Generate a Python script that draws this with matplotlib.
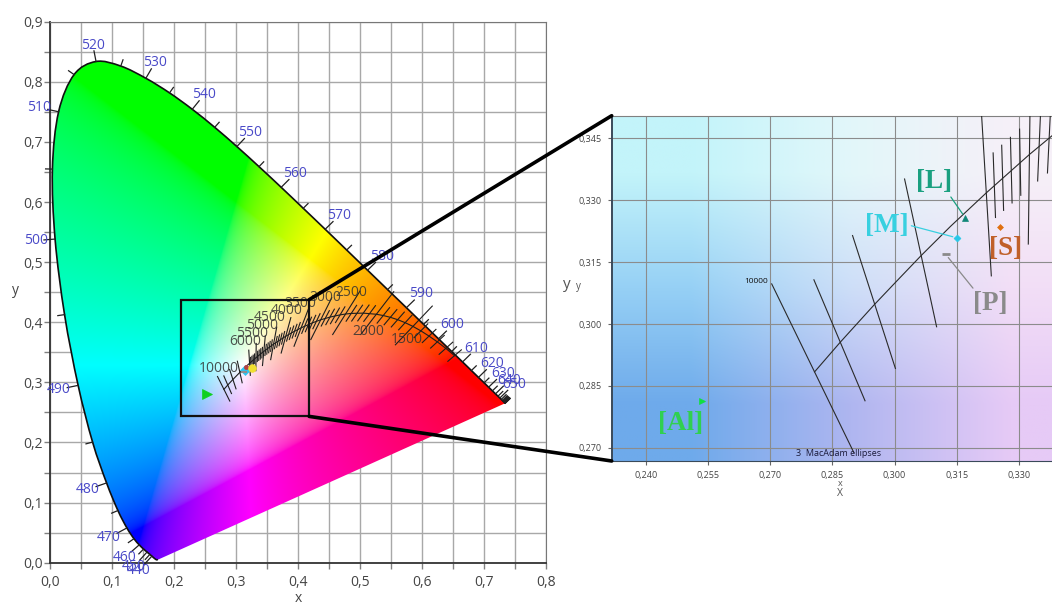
import numpy as np
import matplotlib
matplotlib.use("Agg")
import matplotlib.pyplot as plt
from matplotlib.path import Path
from matplotlib.patches import PathPatch, Rectangle, ConnectionPatch
from matplotlib.ticker import FuncFormatter, MultipleLocator, FixedLocator

plt.rcParams["font.family"] = ["Open Sans", "DejaVu Sans"]

# CIE 1931 2 deg spectral locus, 5 nm steps
WAVELENGTHS = list(range(380, 705, 5))
LOCUS_X = [0.1741, 0.1740, 0.1738, 0.1736, 0.1733, 0.1730, 0.1726, 0.1721, 0.1714, 0.1703,
           0.1689, 0.1669, 0.1644, 0.1611, 0.1566, 0.1510, 0.1440, 0.1355, 0.1241, 0.1096,
           0.0913, 0.0687, 0.0454, 0.0235, 0.0082, 0.0039, 0.0139, 0.0389, 0.0743, 0.1142,
           0.1547, 0.1929, 0.2296, 0.2658, 0.3016, 0.3373, 0.3731, 0.4087, 0.4441, 0.4788,
           0.5125, 0.5448, 0.5752, 0.6029, 0.6270, 0.6482, 0.6658, 0.6801, 0.6915, 0.7006,
           0.7079, 0.7140, 0.7190, 0.7230, 0.7260, 0.7283, 0.7300, 0.7311, 0.7320, 0.7327,
           0.7334, 0.7340, 0.7344, 0.7346, 0.7347]
LOCUS_Y = [0.0050, 0.0050, 0.0049, 0.0049, 0.0048, 0.0048, 0.0048, 0.0048, 0.0051, 0.0058,
           0.0069, 0.0086, 0.0109, 0.0138, 0.0177, 0.0227, 0.0297, 0.0399, 0.0578, 0.0868,
           0.1327, 0.2007, 0.2950, 0.4127, 0.5384, 0.6548, 0.7502, 0.8120, 0.8338, 0.8262,
           0.8059, 0.7816, 0.7543, 0.7243, 0.6923, 0.6589, 0.6245, 0.5896, 0.5547, 0.5202,
           0.4866, 0.4544, 0.4242, 0.3965, 0.3725, 0.3514, 0.3340, 0.3197, 0.3083, 0.2993,
           0.2920, 0.2859, 0.2809, 0.2770, 0.2740, 0.2717, 0.2700, 0.2689, 0.2680, 0.2673,
           0.2666, 0.2660, 0.2656, 0.2654, 0.2653]
TICKED_NM = list(range(440, 705, 5))
LABELED_NM = list(range(440, 655, 10))

# Planckian locus (blackbody chromaticities)
CCT_K = [1000, 1100, 1200, 1300, 1400, 1500, 1600, 1700, 1800, 1900, 2000, 2200, 2400,
         2500, 2600, 2800, 3000, 3200, 3500, 3800, 4000, 4500, 5000, 5500, 6000, 6500,
         7000, 7500, 8000, 9000, 10000]
CCT_X = [0.6528, 0.6388, 0.6251, 0.6117, 0.5985, 0.5857, 0.5732, 0.5611, 0.5493, 0.5378,
         0.5267, 0.5056, 0.4862, 0.4770, 0.4682, 0.4519, 0.4369, 0.4234, 0.4053, 0.3897,
         0.3805, 0.3608, 0.3451, 0.3325, 0.3221, 0.3135, 0.3064, 0.3004, 0.2952, 0.2869,
         0.2807]
CCT_Y = [0.3444, 0.3566, 0.3674, 0.3770, 0.3857, 0.3931, 0.3993, 0.4043, 0.4082, 0.4112,
         0.4133, 0.4152, 0.4147, 0.4137, 0.4123, 0.4086, 0.4041, 0.3990, 0.3907, 0.3823,
         0.3768, 0.3636, 0.3516, 0.3411, 0.3318, 0.3237, 0.3166, 0.3103, 0.3048, 0.2956,
         0.2884]
MAJOR_CCT = [1500, 2000, 2500, 3000, 3500, 4000, 4500, 5000, 5500, 6000, 7000, 8000, 9000, 10000]
MINOR_CCT = [t for t in range(1000, 6001, 100) if t not in MAJOR_CCT]
LABELED_CCT = [10000, 6000, 5500, 5000, 4500, 4000, 3500, 3000, 2500, 2000, 1500]
CCT_LABEL_OFFSET = [(-0.009, 0.034), (-0.007, 0.036), (-0.007, 0.040), (-0.003, 0.043),
                    (-0.006, 0.044), (0.001, 0.042), (-0.002, 0.040), (0.007, 0.037),
                    (0.010, 0.036), (-0.013, -0.029), (-0.010, -0.022)]

# measured samples
SAMPLE_NAMES = ["[Al]", "[M]", "[L]", "[S]", "[P]"]
SAMPLE_X = [0.2535, 0.3150, 0.3170, 0.3253, 0.3123]
SAMPLE_Y = [0.2814, 0.3209, 0.3258, 0.3236, 0.3169]

ZOOM_BOX = (0.2117, 0.2434, 0.4183, 0.4376)
INSET_XLIM = (0.2318, 0.3471)
INSET_YLIM = (0.2668, 0.3505)

XYZ_TO_SRGB = np.array([[3.2406, -1.5372, -0.4986],
                        [-0.9689, 1.8758, 0.0415],
                        [0.0557, -0.2040, 1.0570]])


def chromaticity_rgb(x, y):
    y = np.maximum(y, 1e-6)
    xyz = np.stack([x / y, np.ones_like(x), (1 - x - y) / y], axis=-1)
    rgb = np.clip(xyz @ XYZ_TO_SRGB.T, 0, None)
    rgb /= np.maximum(rgb.max(axis=-1, keepdims=True), 1e-9)
    return np.where(rgb <= 0.0031308, 12.92 * rgb, 1.055 * rgb ** (1 / 2.4) - 0.055)


def smooth_path(xs, ys, closed=False):
    # Catmull-Rom through the locus points, written as cubic Bezier segments
    pts = np.column_stack([xs, ys])
    verts, codes = [pts[0]], [Path.MOVETO]
    for i in range(len(pts) - 1):
        p0, p1 = pts[max(i - 1, 0)], pts[i]
        p2, p3 = pts[i + 1], pts[min(i + 2, len(pts) - 1)]
        verts += [p1 + (p2 - p0) / 6, p2 - (p3 - p1) / 6, p2]
        codes += [Path.CURVE4] * 3
    if closed:
        verts += [pts[0], pts[0]]
        codes += [Path.LINETO, Path.CLOSEPOLY]
    return Path(verts, codes)


def xy_to_uv(x, y):
    d = -2 * x + 12 * y + 3
    return 4 * x / d, 6 * y / d


def uv_to_xy(u, v):
    d = 2 * u - 8 * v + 4
    return 3 * u / d, 2 * v / d


def planck_xy(temps):
    mired = 1e6 / np.asarray(temps, float)
    tab = 1e6 / np.asarray(CCT_K, float)
    order = np.argsort(tab)
    x = np.interp(mired, tab[order], np.asarray(CCT_X)[order])
    y = np.interp(mired, tab[order], np.asarray(CCT_Y)[order])
    return x, y


def isotherm(temp, half):
    x0, y0 = planck_xy([temp])
    xs, ys = planck_xy([temp / 1.02, temp * 1.02])
    u, v = xy_to_uv(xs, ys)
    u0, v0 = xy_to_uv(x0[0], y0[0])
    tu, tv = u[1] - u[0], v[1] - v[0]
    n = np.hypot(tu, tv)
    nu, nv = -tv / n, tu / n
    return uv_to_xy(np.array([u0 - half * nu, u0 + half * nu]),
                    np.array([v0 - half * nv, v0 + half * nv]))


def draw_isotherms(axis, color, lw):
    axis.plot(CCT_X, CCT_Y, color=color, lw=lw, zorder=3)
    for t in MAJOR_CCT + MINOR_CCT:
        half = 0.0042 if t in MINOR_CCT else (0.017 if t == 10000 else 0.0115)
        ix, iy = isotherm(t, half)
        axis.plot(ix, iy, color=color, lw=lw, zorder=3)


fig = plt.figure(figsize=(10.52, 6.03), dpi=100)

# ---- main chromaticity diagram ----
ax = fig.add_axes([50 / 1052, 40.3 / 603, 495.7 / 1052, 541 / 603])
ax.set_xlim(0, 0.8)
ax.set_ylim(0, 0.9)

gx, gy = np.meshgrid(np.linspace(0, 0.8, 640), np.linspace(0, 0.9, 720))
img = ax.imshow(chromaticity_rgb(gx, gy), origin="lower", extent=(0, 0.8, 0, 0.9),
                aspect="auto", interpolation="bilinear", zorder=1)
horseshoe = PathPatch(smooth_path(LOCUS_X, LOCUS_Y, closed=True), transform=ax.transData,
                      fc="none", ec="none")
ax.add_patch(horseshoe)
img.set_clip_path(horseshoe)
ax.add_patch(PathPatch(smooth_path(LOCUS_X, LOCUS_Y), fc="none", ec="#101010", lw=1.2, zorder=3))

lx, ly = np.asarray(LOCUS_X), np.asarray(LOCUS_Y)
tx, ty = np.gradient(lx), np.gradient(ly)
nx, ny = ty, -tx
norm = np.hypot(nx, ny)
nx, ny = nx / norm, ny / norm
flip = (nx * (lx - 0.33) + ny * (ly - 0.33)) < 0
nx[flip] *= -1
ny[flip] *= -1
for i, nm in enumerate(WAVELENGTHS):
    if nm not in TICKED_NM:
        continue
    length = 0.018 if nm in LABELED_NM else 0.011
    ax.plot([lx[i], lx[i] + nx[i] * length], [ly[i], ly[i] + ny[i] * length],
            color="#202020", lw=0.9, zorder=3, clip_on=False)
    if nm in LABELED_NM:
        gap = 0.014 + abs(nx[i]) * 0.016 + abs(ny[i]) * 0.010
        ax.text(lx[i] + nx[i] * gap, ly[i] + ny[i] * gap, str(nm), color="#4a4ac8",
                fontsize=10, ha="center", va="center", zorder=4)

draw_isotherms(ax, "#1e1e1e", 0.8)
for t, (dx, dy) in zip(LABELED_CCT, CCT_LABEL_OFFSET):
    px, py = planck_xy([t])
    ax.text(px[0] + dx, py[0] + dy, str(t), color="#333333", alpha=0.85, fontsize=10,
            ha="center", va="center", zorder=4)

main_styles = [(">", "#10d020", 7), ("D", "#30c4f0", 5.5), ("o", "#b84040", 3),
               ("o", "#f0e030", 5.5), ("_", "#909090", 4)]
for sx, sy, (mk, col, ms) in zip(SAMPLE_X, SAMPLE_Y, main_styles):
    ax.plot(sx, sy, marker=mk, color=col, ms=ms, mew=1.5 if mk == "_" else 0.5, zorder=5)

ax.add_patch(Rectangle((ZOOM_BOX[0], ZOOM_BOX[1]), ZOOM_BOX[2] - ZOOM_BOX[0],
                       ZOOM_BOX[3] - ZOOM_BOX[1], fill=False, ec="#111111", lw=1.6, zorder=6))

ax.xaxis.set_major_locator(MultipleLocator(0.1))
ax.yaxis.set_major_locator(MultipleLocator(0.1))
ax.xaxis.set_minor_locator(MultipleLocator(0.05))
ax.yaxis.set_minor_locator(MultipleLocator(0.05))
comma1 = FuncFormatter(lambda v, _: f"{v:.1f}".replace(".", ","))
ax.xaxis.set_major_formatter(comma1)
ax.yaxis.set_major_formatter(comma1)
ax.grid(which="both", color="#a8a8a8", lw=1.0, zorder=0)
ax.set_axisbelow(True)
ax.tick_params(which="both", direction="out", length=4, width=1, color="#808080",
               labelsize=10, labelcolor="#444444")
ax.tick_params(axis="y", pad=1)
ax.tick_params(axis="x", pad=5)
for side in ("top", "right"):
    ax.spines[side].set_color("#777777")
for side in ("left", "bottom"):
    ax.spines[side].set_color("#333333")
    ax.spines[side].set_linewidth(1.3)

fig.text(15 / 1052, 1 - 290 / 603, "y", fontsize=10, color="#444444", ha="center", va="center")
fig.text(298 / 1052, 1 - 598 / 603, "x", fontsize=10, color="#444444", ha="center", va="center")

# ---- zoomed panel ----
inset = fig.add_axes([611.7 / 1052, 142 / 603, 478.3 / 1052, 345.3 / 603])
inset.set_xlim(*INSET_XLIM)
inset.set_ylim(*INSET_YLIM)
shades = np.array([[(110, 170, 235), (175, 182, 240), (230, 202, 246)],
                   [(150, 208, 245), (205, 222, 248), (242, 222, 246)],
                   [(195, 244, 250), (226, 247, 250), (246, 240, 248)]]) / 255
inset.imshow(shades, origin="lower", extent=(*INSET_XLIM, *INSET_YLIM), aspect="auto",
             interpolation="bilinear", zorder=0)
draw_isotherms(inset, "#2a2a2a", 0.8)

inset_styles = [(">", "#10e040", 4.5), ("D", "#28c8e8", 3.5), ("^", "#108878", 4.5),
                ("D", "#e07010", 3), ("_", "#8a8a8a", 6)]
for sx, sy, (mk, col, ms) in zip(SAMPLE_X, SAMPLE_Y, inset_styles):
    inset.plot(sx, sy, marker=mk, color=col, ms=ms, mew=2 if mk == "_" else 0.5, zorder=5)

label_pos = [(0.2483, 0.2759), (0.2981, 0.3240), (0.3094, 0.3345), (0.3267, 0.3183), (0.3230, 0.3050)]
label_col = ["#30d050", "#38d0e0", "#1aa080", "#c0602a", "#8a8a8a"]
leader_rel = [None, (1.0, 0.5), (0.9, 0.05), None, (0.1, 0.95)]
for name, sx, sy, (tx_, ty_), col, rel in zip(SAMPLE_NAMES, SAMPLE_X, SAMPLE_Y,
                                             label_pos, label_col, leader_rel):
    props = None
    if rel is not None:
        props = dict(arrowstyle="-", color=col, lw=0.9, relpos=rel, shrinkA=0, shrinkB=3)
    inset.annotate(name, xy=(sx, sy), xytext=(tx_, ty_), ha="center", va="center",
                   fontsize=19.5, fontweight="bold", family="Liberation Serif", color=col,
                   arrowprops=props, zorder=6)

inset.text(0.2666, 0.3102, "10000", fontsize=6, color="#111111", ha="center", va="center")
inset.text(0.2864, 0.2686, "3  MacAdam ellipses", fontsize=6.5, color="#1a1a3a",
           ha="center", va="center")

inset.xaxis.set_major_locator(FixedLocator(np.round(np.arange(0.240, 0.3301, 0.015), 3)))
inset.yaxis.set_major_locator(MultipleLocator(0.015))
comma3 = FuncFormatter(lambda v, _: f"{v:.3f}".replace(".", ","))
inset.xaxis.set_major_formatter(comma3)
inset.yaxis.set_major_formatter(comma3)
inset.grid(color="#8c8c8c", lw=0.8, zorder=1)
inset.set_axisbelow(True)
inset.tick_params(direction="out", length=3, width=0.8, color="#666666", labelsize=6.5,
                  labelcolor="#444444", pad=4)
inset.spines["left"].set_color("#3a4a5a")
inset.spines["left"].set_linewidth(1.4)
inset.spines["bottom"].set_color("#3a4a5a")
inset.spines["top"].set_color("#808080")
inset.spines["right"].set_visible(False)

fig.text(566.7 / 1052, 1 - 285 / 603, "y", fontsize=11, color="#555555", ha="center", va="center")
fig.text(578.3 / 1052, 1 - 286.7 / 603, "y", fontsize=7, color="#555555", ha="center", va="center")
fig.text(840 / 1052, 1 - 484 / 603, "x", fontsize=6.5, color="#555555", ha="center", va="center")
fig.text(840 / 1052, 1 - 494 / 603, "X", fontsize=7.5, color="#555555", ha="center", va="center")

# connectors from the zoom box to the panel
for corner_y, panel_y in ((ZOOM_BOX[3], 1), (ZOOM_BOX[1], 0)):
    fig.add_artist(ConnectionPatch(xyA=(ZOOM_BOX[2], corner_y), coordsA=ax.transData,
                                   xyB=(0, panel_y), coordsB=inset.transAxes,
                                   color="black", lw=2.6, zorder=10))

fig.savefig("out.png", dpi=100)
